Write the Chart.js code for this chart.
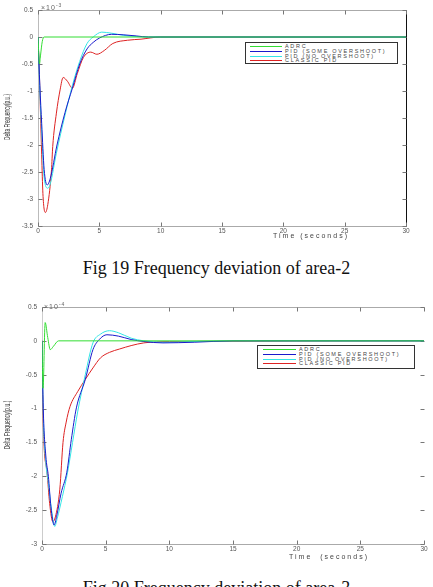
<!DOCTYPE html>
<html><head><meta charset="utf-8">
<script src="https://cdn.jsdelivr.net/npm/chart.js@4.4.1/dist/chart.umd.min.js"></script>
<style>
html,body{margin:0;padding:0;background:#fff;}
body{width:433px;height:587px;overflow:hidden;position:relative;font-family:"Liberation Sans",Arial,sans-serif;}
.wrap{position:absolute;left:0;width:433px;}
#w1{top:0;height:245px;}
#w2{top:298px;height:270px;}
canvas{display:block}
.cap{position:absolute;left:0;width:433px;text-align:center;font-family:"Liberation Serif","Times New Roman",serif;font-size:18px;line-height:18px;color:#111;}
.xt{position:absolute;font-size:7px;line-height:8px;letter-spacing:2px;color:#444;white-space:nowrap;transform:translateX(-50%);}
.yt{position:absolute;font-size:9px;line-height:9px;color:#333;white-space:nowrap;pointer-events:none;}
.exp{position:absolute;font-size:7px;line-height:8px;letter-spacing:1px;color:#666;white-space:nowrap;}
.exp sup{font-size:5px;vertical-align:3px;}
.leg{position:absolute;border:1px solid #333;background:#fff;font-size:5.5px;color:#444;box-sizing:border-box;padding-top:1px;}
.leg .row{height:4.8px;line-height:4.8px;white-space:nowrap;letter-spacing:1.7px;}
.leg .ln{display:inline-block;height:1px;vertical-align:middle;}
</style>
</head><body>
<div class="wrap" id="w1"><canvas id="c1" width="433" height="245"></canvas></div>
<div class="exp" style="left:41px;top:1px;">&times;10<sup>-3</sup></div>
<div class="xt" style="left:311px;top:232px;">Time (seconds)</div>
<div class="yt" id="yt1">Delta Frequency(p.u.)</div>
<div class="leg" id="leg1" style="left:245px;top:42px;width:153px;height:22px;"></div>
<div class="cap" style="top:259px;">Fig 19 Frequency deviation of area-2</div>

<div class="wrap" id="w2"><canvas id="c2" width="433" height="270"></canvas></div>
<div class="exp" style="left:44px;top:300px;">&times;10<sup>-4</sup></div>
<div class="xt" style="left:329px;top:553px;">Time&nbsp; (seconds)</div>
<div class="yt" id="yt2">Delta Frequency(p.u.)</div>
<div class="leg" id="leg2" style="left:257px;top:345px;width:158px;height:24px;"></div>
<div class="cap" style="top:579px;">Fig 20 Frequency deviation of area-3</div>

<script>
// ---------------- DATA ----------------
const seriesLabels = ["ADRC", "PID (SOME OVERSHOOT)", "PID (NO OVERSHOOT)", "CLASSIC PID"];

// Area-2 (x 10^-3)
const a2_adrc_t = [0, 0.12, 0.2, 0.35, 0.5, 30];
const a2_adrc_v = [0, -0.5, -0.35, -0.08, 0, 0];
const a2_pidSome_t = [0, 0.15, 0.3, 0.5, 0.75, 1.0, 1.55, 2.2, 2.8, 3.4, 4.0, 4.5, 5.0, 6.0, 7.0, 8.0, 9.0, 30];
const a2_pidSome_v = [0, -0.9, -1.6, -2.45, -2.74, -2.62, -2.0, -1.4, -0.95, -0.5, -0.22, -0.1, -0.02, 0.05, 0.04, 0.02, 0, 0];
const a2_pidNo_t = [0, 0.15, 0.3, 0.5, 0.8, 1.0, 1.5, 2.2, 2.8, 3.4, 4.0, 4.5, 5.2, 6.0, 7.0, 8.0, 9.0, 30];
const a2_pidNo_v = [0, -1.0, -1.75, -2.6, -2.8, -2.72, -2.15, -1.45, -0.9, -0.45, -0.12, 0.0, 0.09, 0.07, 0.03, 0.01, 0, 0];
const a2_classic_t = [0, 0.1, 0.2, 0.3, 0.4, 0.6, 0.8, 1.1, 1.2, 1.5, 1.8, 2.05, 2.4, 2.8, 3.2, 3.7, 4.3, 4.8, 5.4, 6.1, 7.3, 8.4, 10, 30];
const a2_classic_v = [0, -0.6, -1.4, -2.18, -2.9, -3.25, -3.1, -2.46, -2.03, -1.41, -0.98, -0.75, -0.82, -0.95, -0.68, -0.38, -0.28, -0.32, -0.25, -0.12, -0.06, -0.04, 0, 0];

// Area-3 (x 10^-4)
const a3_adrc_t = [0, 0.08, 0.25, 0.45, 0.65, 0.9, 1.3, 30];
const a3_adrc_v = [0, -0.7, 0.27, 0.05, -0.13, -0.08, 0, 0];
const a3_pidSome_t = [0, 0.1, 0.3, 0.5, 0.7, 0.95, 1.15, 1.5, 1.95, 2.3, 2.7, 3.4, 4.0, 4.5, 5.1, 6.0, 7.0, 8.0, 9.5, 12, 15, 30];
const a3_pidSome_v = [0, -1.0, -1.7, -2.0, -2.45, -2.72, -2.59, -2.25, -1.94, -1.46, -0.99, -0.57, -0.13, 0.02, 0.09, 0.07, 0.02, -0.01, -0.03, -0.02, 0, 0];
const a3_pidNo_t = [0, 0.1, 0.3, 0.5, 0.75, 1.0, 1.2, 1.6, 2.0, 2.4, 2.8, 3.4, 4.0, 4.6, 5.3, 6.0, 7.0, 8.0, 9.5, 12, 15, 30];
const a3_pidNo_v = [0, -1.1, -1.8, -2.1, -2.5, -2.74, -2.62, -2.3, -1.95, -1.5, -1.05, -0.5, -0.03, 0.1, 0.15, 0.12, 0.04, 0.0, -0.02, -0.01, 0, 0];
const a3_classic_t = [0, 0.05, 0.15, 0.4, 0.6, 0.85, 1.05, 1.4, 1.65, 1.9, 2.2, 2.8, 3.4, 4.0, 4.6, 5.3, 6.1, 7.0, 8.0, 10, 30];
const a3_classic_v = [0, -0.8, -1.5, -1.95, -2.4, -2.67, -2.6, -2.19, -1.5, -1.2, -0.97, -0.75, -0.57, -0.4, -0.25, -0.17, -0.12, -0.07, -0.03, -0.01, 0];

const xTicksMin = 0, xTicksMax = 30, xStep = 5;
const a2_yMin = -3.5, a2_yMax = 0.5, yStep = 0.5;
const a3_yMin = -3, a3_yMax = 0.5;

// ---------------- STYLES ----------------
const colors = ["#33dd33", "#1a1acc", "#33e6e6", "#dd2222"];

function pts(t, v){ return t.map((x,i)=>({x:x, y:v[i]})); }

const framePlugin = {
  id:'frame',
  beforeDatasetsDraw(chart, args, o){
    const {ctx, chartArea:a, scales} = chart;
    ctx.save();
    ctx.lineWidth = 1;
    const side = (c, x1,y1,x2,y2)=>{ if(!c) return; ctx.strokeStyle=c; ctx.beginPath(); ctx.moveTo(x1,y1); ctx.lineTo(x2,y2); ctx.stroke(); };
    const L=Math.round(a.left)+0.5, R=Math.round(a.right)+0.5, T=Math.round(a.top)+0.5, B=Math.round(a.bottom)+0.5;
    side(o.top, L, T, R, T);
    side(o.bottom, L, B, R, B);
    side(o.left, L, T, L, B);
    side(o.right, R, T, R, B);
    ctx.strokeStyle = o.tick;
    scales.y.ticks.forEach(tk=>{
      const y = Math.round(scales.y.getPixelForValue(tk.value))+0.5;
      ctx.beginPath(); ctx.moveTo(L, y); ctx.lineTo(L+4, y); ctx.stroke();
      ctx.beginPath(); ctx.moveTo(R-4, y); ctx.lineTo(R, y); ctx.stroke();
    });
    scales.x.ticks.forEach(tk=>{
      const x = Math.round(scales.x.getPixelForValue(tk.value))+0.5;
      ctx.beginPath(); ctx.moveTo(x, B); ctx.lineTo(x, B-4); ctx.stroke();
      ctx.beginPath(); ctx.moveTo(x, T); ctx.lineTo(x, T+4); ctx.stroke();
    });
    ctx.restore();
  }
};

const fmt = v => String(v);

function makeChart(id, sets, yMin, yMax, yW, xH, pad, frame){
  return new Chart(document.getElementById(id), {
    type:'line',
    data:{ datasets: sets.map((s,i)=>({
      label: seriesLabels[i], data: pts(s[0], s[1]),
      borderColor: colors[i], backgroundColor: colors[i],
      borderWidth: 1, pointRadius: 0, fill:false,
      cubicInterpolationMode:'monotone'
    }))},
    options:{
      responsive:false, animation:false, devicePixelRatio:1,
      layout:{padding:pad},
      plugins:{legend:{display:false}, tooltip:{enabled:false}, frame: frame},
      scales:{
        x:{type:'linear', min:xTicksMin, max:xTicksMax,
           ticks:{stepSize:xStep, autoSkip:false, callback:fmt, font:{size:6.5, family:'Liberation Sans'}, color:'#555', padding:1, maxRotation:0},
           grid:{display:false, drawTicks:false}, border:{display:false},
           afterFit(s){ s.height = xH; }},
        y:{type:'linear', min:yMin, max:yMax,
           ticks:{stepSize:yStep, autoSkip:false, callback:fmt, font:{size:6.5, family:'Liberation Sans'}, color:'#555', padding:5},
           grid:{display:false, drawTicks:false}, border:{display:false},
           afterFit(s){ s.width = yW; }}
      }
    },
    plugins:[framePlugin]
  });
}

const c1 = makeChart('c1', [
  [a2_adrc_t, a2_adrc_v], [a2_pidSome_t, a2_pidSome_v], [a2_pidNo_t, a2_pidNo_v], [a2_classic_t, a2_classic_v]
], a2_yMin, a2_yMax, 38, 19, {left:0, right:27, top:10, bottom:0},
  {top:'#aaa', bottom:'#aaa', left:'#bbb', right:'#111', tick:'#777'});

const c2 = makeChart('c2', [
  [a3_adrc_t, a3_adrc_v], [a3_pidSome_t, a3_pidSome_v], [a3_pidNo_t, a3_pidNo_v], [a3_classic_t, a3_classic_v]
], a3_yMin, a3_yMax, 42, 24, {left:0, right:9, top:9, bottom:0},
  {top:'#aaa', bottom:'#aaa', left:'#ccc', right:null, tick:'#777'});

function buildLegend(chart, el, lineW, ml){
  chart.data.datasets.forEach(ds=>{
    const r = document.createElement('div'); r.className='row';
    const ln = document.createElement('span'); ln.className='ln';
    ln.style.width = lineW+'px'; ln.style.marginLeft = ml+'px'; ln.style.marginRight='3px';
    ln.style.background = ds.borderColor;
    r.appendChild(ln);
    r.appendChild(document.createTextNode(ds.label.toUpperCase()));
    el.appendChild(r);
  });
}
buildLegend(c1, document.getElementById('leg1'), 32, 4);
buildLegend(c2, document.getElementById('leg2'), 33, 5);

function placeY(id, cx, cy, sx){
  const e = document.getElementById(id);
  e.style.left = cx+'px'; e.style.top = cy+'px';
  e.style.transform = 'translate(-50%,-50%) rotate(-90deg) scaleX('+sx+')';
}
placeY('yt1', 7, 117, 0.53);
placeY('yt2', 7, 425, 0.56);
</script>
</body></html>
